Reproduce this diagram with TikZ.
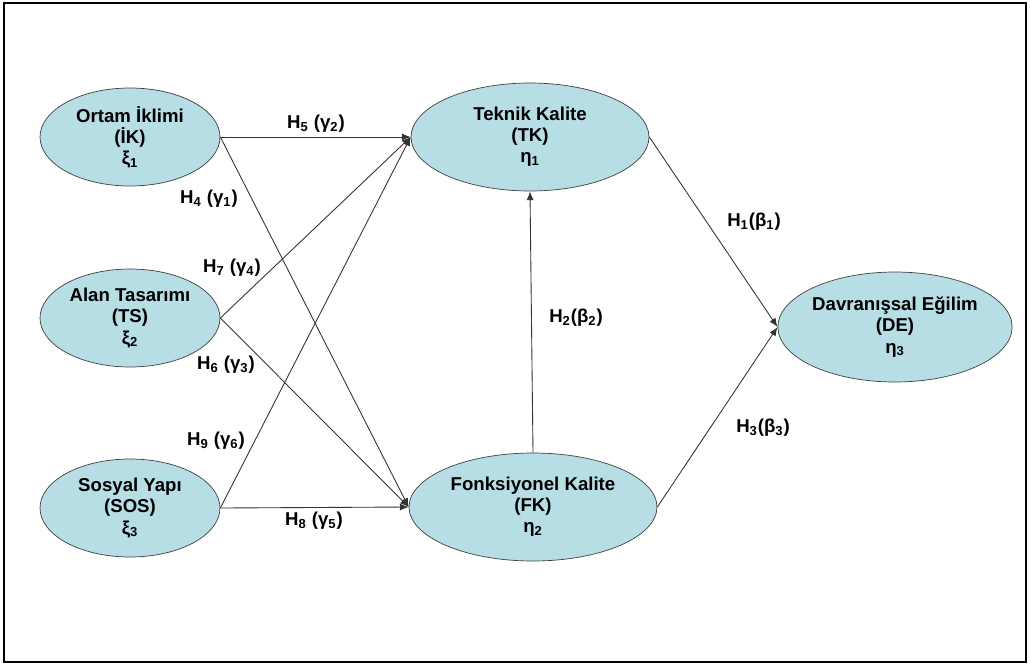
\documentclass[tikz,border=0pt]{standalone}
\usepackage{fontspec}
\setmainfont{Liberation Sans}
\usepackage{xcolor}
\usetikzlibrary{arrows.meta,shapes.geometric}
\definecolor{lvblue}{RGB}{183,221,229}
\newcommand{\idx}[1]{\textsubscript{#1}}
\tikzset{
  latent/.style={ellipse, draw=black!75, fill=lvblue, inner sep=0pt, align=center, font=\bfseries\fontsize{10.6}{12}\selectfont},
  hyp/.style={-{Latex[length=5pt,width=4pt]}, black!80, line width=0.5pt},
  coef/.style={font=\bfseries\fontsize{10.6}{12}\selectfont, inner sep=1pt}
}

\begin{document}
\begin{tikzpicture}[x=0.02cm,y=-0.02cm]
  \useasboundingbox (0,0) rectangle (1030,666);
  \draw[line width=1.6pt] (4,3) rectangle (1026,662);

  \node[latent, minimum width=3.6cm, minimum height=1.96cm] (IK) at (130,137) {Ortam İklimi\\(İK)\\ξ\idx{1}};
  \node[latent, minimum width=3.6cm, minimum height=1.96cm] (TS) at (130,318) {Alan Tasarımı\\(TS)\\ξ\idx{2}};
  \node[latent, minimum width=3.6cm, minimum height=1.96cm] (SOS) at (130,508) {Sosyal Yapı\\(SOS)\\ξ\idx{3}};
  \node[latent, minimum width=4.76cm, minimum height=2.16cm] (TK) at (530,137) {Teknik Kalite\\(TK)\\η\idx{1}};
  \node[latent, minimum width=4.96cm, minimum height=2.16cm] (FK) at (533,507) {Fonksiyonel Kalite\\(FK)\\η\idx{2}};
  \node[latent, minimum width=4.54cm, minimum height=2.2cm] (DE) at (895,327) {Davranışsal Eğilim\\(DE)\\η\idx{3}};

  \draw[hyp] (IK.east) -- (TK.west);
  \draw[hyp] (IK.east) -- (FK.west);
  \draw[hyp] (TS.east) -- (TK.west);
  \draw[hyp] (TS.east) -- (FK.west);
  \draw[hyp] (SOS.east) -- (TK.west);
  \draw[hyp] (SOS.east) -- (FK.west);
  \draw[hyp] (FK.north) -- (TK.south);
  \draw[hyp] (TK.east) -- (DE.west);
  \draw[hyp] (FK.east) -- (DE.west);

  \node[coef] (h5) at (316,124) {H\idx{5} (γ\idx{2})};
  \node[coef] (h4) at (209,199) {H\idx{4} (γ\idx{1})};
  \node[coef] (h7) at (232,268) {H\idx{7} (γ\idx{4})};
  \node[coef] (h6) at (226,365) {H\idx{6} (γ\idx{3})};
  \node[coef] (h9) at (216,441) {H\idx{9} (γ\idx{6})};
  \node[coef] (h8) at (314,521) {H\idx{8} (γ\idx{5})};
  \node[coef] (h2) at (576,318) {H\idx{2}(β\idx{2})};
  \node[coef] (h1) at (754,222) {H\idx{1}(β\idx{1})};
  \node[coef] (h3) at (763,428) {H\idx{3}(β\idx{3})};
\end{tikzpicture}
\end{document}
